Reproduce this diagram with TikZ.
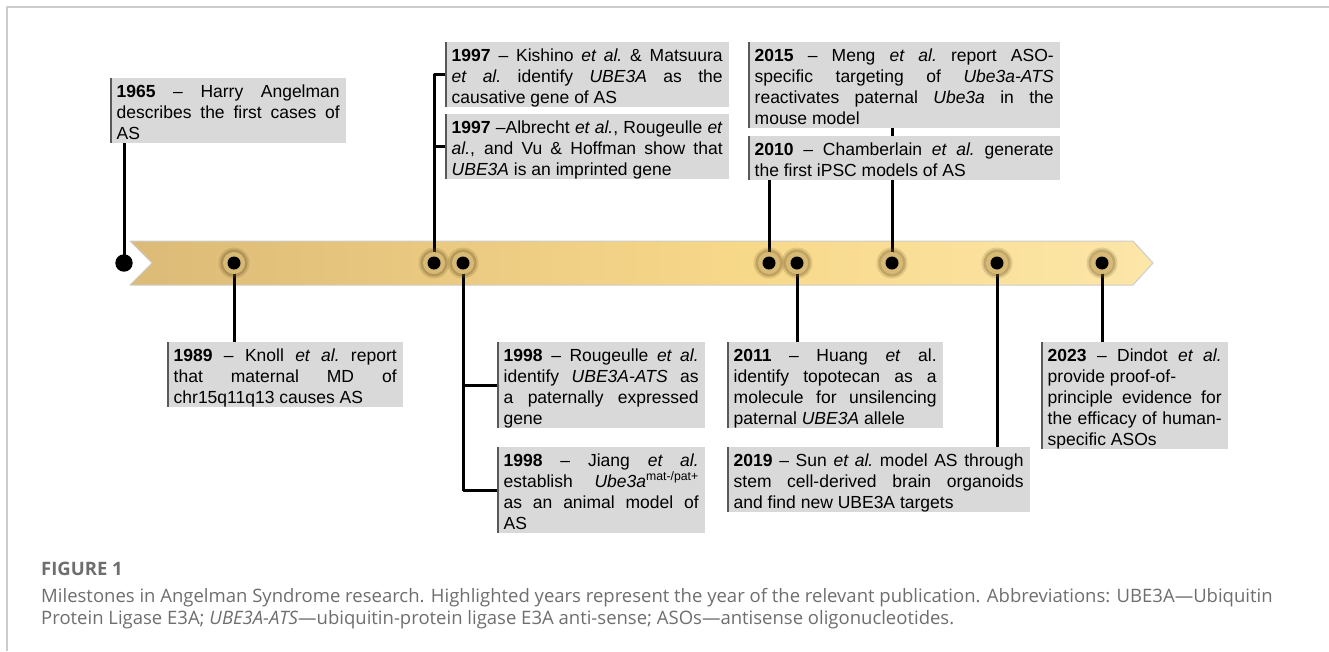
\documentclass[tikz,border=0pt]{standalone}
\usepackage{fontspec}
\setmainfont{Liberation Sans}
\newfontfamily\capfont{Open Sans}

\definecolor{boxgray}{RGB}{217,217,217}
\definecolor{edgegray}{RGB}{89,89,89}
\definecolor{ringtan}{RGB}{214,186,118}
\definecolor{glowbrown}{RGB}{115,90,40}
\definecolor{capgray}{RGB}{110,110,110}
\definecolor{framegray}{RGB}{204,204,204}

\pgfdeclarehorizontalshading{barshade}{100bp}{%
  rgb(0bp)=(0.77,0.65,0.42);
  rgb(30bp)=(0.88,0.75,0.48);
  rgb(55bp)=(0.97,0.85,0.54);
  rgb(78bp)=(0.99,0.91,0.68);
  rgb(100bp)=(0.99,0.95,0.83)}

\newcommand{\etal}{\textit{et al.}}

\tikzset{
  milestone/.style={
    anchor=north west,
    fill=boxgray,
    inner xsep=6.5pt,
    inner ysep=0pt,
    align=justify,
    font=\fontsize{17.5}{21}\selectfont,
    execute at begin node={\rule{0pt}{19pt}},
    execute at end node={\rule[-4pt]{0pt}{4pt}},
    path picture={\draw[edgegray, line width=4pt]
      (path picture bounding box.north west) -- (path picture bounding box.south west);}
  },
  stem/.style={line width=3pt},
  captext/.style={anchor=base west, text=capgray, inner sep=0pt}
}

\begin{document}
\begin{tikzpicture}[x=1pt, y=-1pt, line join=round]
  \useasboundingbox (0,0) rectangle (1329,651);

  % Rahmen
  \draw[framegray, line width=1.5pt] (7,651) -- (7,7) -- (1329,7);

  % Zeitleiste
  \shade[shading=barshade, draw=framegray, line width=1pt]
    (130,241) -- (1133,241) -- (1153,263) -- (1133,285) -- (130,285) -- (152,263) -- cycle;

  % Punkte auf der Zeitleiste
  \coordinate (d1965) at (124,263);
  \foreach \yr/\x in {1989/234, 1997/434, 1998/463, 2010/769,
                      2011/797, 2015/892, 2019/997, 2023/1102}
    \coordinate (d\yr) at (\x,263);

  % Kaesten oben
  \node[milestone, text width=223pt] (b1965) at (110,78)
    {\textbf{1965} – Harry Angelman\linebreak describes the first cases of\linebreak AS};
  \node[milestone, text width=271pt] (b1997a) at (445,42)
    {\textbf{1997} – Kishino \etal\ \& Matsuura\linebreak \etal\ identify \textit{UBE3A} as the\linebreak causative gene of AS};
  \node[milestone, text width=271pt] (b1997b) at (445,114)
    {\textbf{1997} –Albrecht \etal, Rougeulle \textit{et}\linebreak \textit{al.}, and Vu \& Hoffman show that\linebreak \textit{UBE3A} is an imprinted gene};
  \node[milestone, text width=299pt] (b2015) at (748,42)
    {\textbf{2015} – Meng \etal\ report ASO-\linebreak specific targeting of \textit{Ube3a-ATS}\linebreak reactivates paternal \textit{Ube3a} in the\linebreak mouse model};
  \node[milestone, text width=299pt] (b2010) at (748,136)
    {\textbf{2010} – Chamberlain \etal\ generate\linebreak the first iPSC models of AS};

  % Kaesten unten
  \node[milestone, text width=223pt] (b1989) at (167,342)
    {\textbf{1989} – Knoll \etal\ report\linebreak that maternal MD of\linebreak chr15q11q13 causes AS};
  \node[milestone, text width=195pt] (b1998a) at (497,342)
    {\textbf{1998} – Rougeulle \etal\linebreak identify \textit{UBE3A-ATS} as\linebreak a paternally expressed\linebreak gene};
  \node[milestone, text width=195pt] (b1998b) at (497,447)
    {\textbf{1998} – Jiang \etal\linebreak establish \textit{Ube3a}\textsuperscript{mat-/pat+}\linebreak as an animal model of\linebreak AS};
  \node[milestone, text width=203pt] (b2011) at (727,342)
    {\textbf{2011} – Huang \textit{et} al.\linebreak identify topotecan as a\linebreak molecule for unsilencing\linebreak paternal \textit{UBE3A} allele};
  \node[milestone, text width=290pt] (b2019) at (727,447)
    {\textbf{2019} – Sun \etal\ model AS through\linebreak stem cell-derived brain organoids\linebreak and find new UBE3A targets};
  \node[milestone, text width=174pt] (b2023) at (1041,342)
    {\textbf{2023} – Dindot \etal\linebreak provide proof-of-\newline principle evidence for\linebreak the efficacy of human-\linebreak specific ASOs};

  % Verbindungen
  \draw[stem] (d1965) -- (d1965 |- b1965.south);
  \draw[stem] (d1997) |- (b1997a.west);
  \draw[stem] (d1997) |- (b1997b.west);
  \draw[stem] (d2010) -- (d2010 |- b2010.south);
  \draw[stem] (d2015) -- (d2015 |- b2010.south);
  \draw[stem] (d2015 |- b2010.north) -- (d2015 |- b2015.south);
  \draw[stem] (d1989) -- (d1989 |- b1989.north);
  \draw[stem] (d1998) |- (b1998a.west);
  \draw[stem] (d1998) |- (b1998b.west);
  \draw[stem] (d2011) -- (d2011 |- b2011.north);
  \draw[stem] (d2019) -- (d2019 |- b2019.north);
  \draw[stem] (d2023) -- (d2023 |- b2023.north);

  % Ringe
  \foreach \yr in {1989,1997,1998,2010,2011,2015,2019,2023} {
    \fill[glowbrown, opacity=.18] (d\yr) circle[radius=15.5pt];
    \fill[glowbrown, opacity=.3] (d\yr) circle[radius=13.5pt];
    \fill[ringtan] (d\yr) circle[radius=11pt];
    \fill[black] (d\yr) circle[radius=6.5pt];
  }
  \fill[black] (d1965) circle[radius=8.7pt];

  % Bildunterschrift
  \node[captext, font=\capfont\fontsize{18.5}{20}\selectfont\bfseries] (figno) at (41,575) {FIGURE 1};
  \node[captext, font=\capfont\fontsize{18.5}{20}\selectfont] (capa) at (41,602)
    {Milestones in Angelman Syndrome research. Highlighted years represent the year of the relevant publication. Abbreviations: UBE3A—Ubiquitin};
  \node[captext, font=\capfont\fontsize{18.5}{20}\selectfont] (capb) at (41,624)
    {Protein Ligase E3A; \textit{UBE3A-ATS}—ubiquitin-protein ligase E3A anti-sense; ASOs—antisense oligonucleotides.};
\end{tikzpicture}
\end{document}
